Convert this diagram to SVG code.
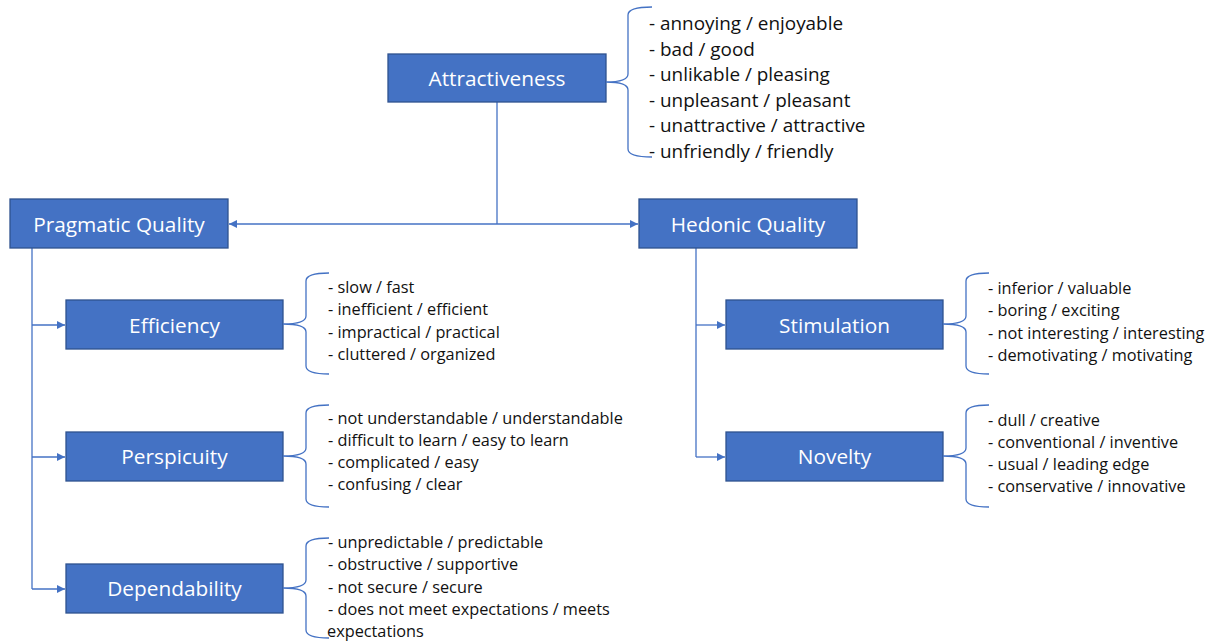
<svg xmlns="http://www.w3.org/2000/svg" width="1217" height="641" viewBox="0 0 1217 641">
  <defs>
    <marker id="arrow" viewBox="0 0 10 10" refX="10" refY="5" markerWidth="8" markerHeight="8" markerUnits="userSpaceOnUse" orient="auto">
      <path d="M0,0 L10,5 L0,10 Z" fill="#4472C4"/>
    </marker>
    <style>
      .box { fill: #4472C4; stroke: #2F528F; stroke-width: 1.3; }
      .label { font-family: "Open Sans", "Noto Sans", sans-serif; font-size: 20.8px; fill: #FFFFFF; text-anchor: middle; }
      .link { fill: none; stroke: #4472C4; stroke-width: 1.3; }
      .brace { fill: none; stroke: #4472C4; stroke-width: 1.3; }
      .items { font-family: "Open Sans", "Noto Sans", sans-serif; font-size: 16.3px; fill: #111111; }
      .items.big { font-size: 18.9px; }
    </style>
  </defs>
  <rect width="1217" height="641" fill="#FFFFFF"/>

  <!-- connectors -->
  <g id="connectors">
    <path class="link" d="M497,102 V224"/>
    <path class="link" d="M497,224 H229" marker-end="url(#arrow)"/>
    <path class="link" d="M497,224 H638" marker-end="url(#arrow)"/>
    <path class="link" d="M32,248 V589"/>
    <path class="link" d="M32,325 H65" marker-end="url(#arrow)"/>
    <path class="link" d="M32,457 H65" marker-end="url(#arrow)"/>
    <path class="link" d="M32,589 H65" marker-end="url(#arrow)"/>
    <path class="link" d="M696,248 V457"/>
    <path class="link" d="M696,325 H725" marker-end="url(#arrow)"/>
    <path class="link" d="M696,457 H725" marker-end="url(#arrow)"/>
  </g>

  <!-- Attractiveness -->
  <g id="attractiveness">
    <rect class="box" x="388" y="54" width="218" height="48"/>
    <text class="label" x="497" y="86">Attractiveness</text>
    <path class="brace" d="M652,7 Q628,7 628,15 L628,74 Q628,82 606,82 Q628,82 628,90 L628,149 Q628,157 652,157"/>
    <text class="items big">
      <tspan x="649" y="30">- annoying / enjoyable</tspan>
      <tspan x="649" y="55.5">- bad / good</tspan>
      <tspan x="649" y="81">- unlikable / pleasing</tspan>
      <tspan x="649" y="106.5">- unpleasant / pleasant</tspan>
      <tspan x="649" y="132">- unattractive / attractive</tspan>
      <tspan x="649" y="158">- unfriendly / friendly</tspan>
    </text>
  </g>

  <!-- Pragmatic Quality -->
  <g id="pragmatic-quality">
    <rect class="box" x="10" y="199" width="218" height="49"/>
    <text class="label" x="119" y="231.5">Pragmatic Quality</text>
  </g>

  <!-- Hedonic Quality -->
  <g id="hedonic-quality">
    <rect class="box" x="639" y="199" width="218" height="49"/>
    <text class="label" x="748" y="231.5">Hedonic Quality</text>
  </g>

  <!-- Efficiency -->
  <g id="efficiency">
    <rect class="box" x="66" y="300" width="217" height="49"/>
    <text class="label" x="174.5" y="332.5">Efficiency</text>
    <path class="brace" d="M329,273 Q306,273 306,281 L306,316 Q306,324 283,324 Q306,324 306,332 L306,366 Q306,374 329,374"/>
    <text class="items">
      <tspan x="328" y="293">- slow / fast</tspan>
      <tspan x="328" y="315.3">- inefficient / efficient</tspan>
      <tspan x="328" y="337.6">- impractical / practical</tspan>
      <tspan x="328" y="360">- cluttered / organized</tspan>
    </text>
  </g>

  <!-- Perspicuity -->
  <g id="perspicuity">
    <rect class="box" x="66" y="432" width="217" height="49"/>
    <text class="label" x="174.5" y="464">Perspicuity</text>
    <path class="brace" d="M329,405 Q306,405 306,413 L306,448 Q306,456 283,456 Q306,456 306,464 L306,499 Q306,507 329,507"/>
    <text class="items">
      <tspan x="328" y="424">- not understandable / understandable</tspan>
      <tspan x="328" y="446">- difficult to learn / easy to learn</tspan>
      <tspan x="328" y="468">- complicated / easy</tspan>
      <tspan x="328" y="490">- confusing / clear</tspan>
    </text>
  </g>

  <!-- Dependability -->
  <g id="dependability">
    <rect class="box" x="66" y="564" width="217" height="49"/>
    <text class="label" x="174.5" y="596">Dependability</text>
    <path class="brace" d="M329,538 Q306,538 306,546 L306,580 Q306,588 283,588 Q306,588 306,596 L306,630 Q306,638 329,638"/>
    <text class="items">
      <tspan x="328" y="548">- unpredictable / predictable</tspan>
      <tspan x="328" y="570.3">- obstructive / supportive</tspan>
      <tspan x="328" y="592.6">- not secure / secure</tspan>
      <tspan x="328" y="615">- does not meet expectations / meets</tspan>
      <tspan x="327" y="637">expectations</tspan>
    </text>
  </g>

  <!-- Stimulation -->
  <g id="stimulation">
    <rect class="box" x="726" y="300" width="217" height="49"/>
    <text class="label" x="834.5" y="332.5">Stimulation</text>
    <path class="brace" d="M989,273 Q966,273 966,281 L966,316 Q966,324 943,324 Q966,324 966,332 L966,366 Q966,374 989,374"/>
    <text class="items">
      <tspan x="988" y="294">- inferior / valuable</tspan>
      <tspan x="988" y="316.3">- boring / exciting</tspan>
      <tspan x="988" y="338.6">- not interesting / interesting</tspan>
      <tspan x="988" y="361">- demotivating / motivating</tspan>
    </text>
  </g>

  <!-- Novelty -->
  <g id="novelty">
    <rect class="box" x="726" y="432" width="217" height="49"/>
    <text class="label" x="834.5" y="464">Novelty</text>
    <path class="brace" d="M989,405 Q966,405 966,413 L966,448 Q966,456 943,456 Q966,456 966,464 L966,499 Q966,507 989,507"/>
    <text class="items">
      <tspan x="988" y="426">- dull / creative</tspan>
      <tspan x="988" y="448">- conventional / inventive</tspan>
      <tspan x="988" y="470">- usual / leading edge</tspan>
      <tspan x="988" y="492">- conservative / innovative</tspan>
    </text>
  </g>
</svg>
